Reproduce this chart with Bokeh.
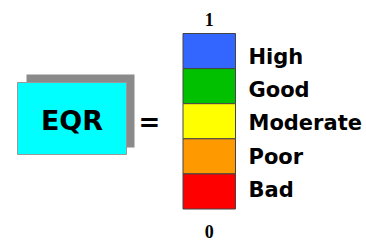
from bokeh.plotting import figure
from bokeh.models import Range1d, ColumnDataSource
from bokeh.core.properties import value
from bokeh.embed import file_html
from bokeh.resources import INLINE

# data
classes = ["High", "Good", "Moderate", "Poor", "Bad"]
upper = [1.0, 0.8, 0.6, 0.4, 0.2]
lower = [0.8, 0.6, 0.4, 0.2, 0.0]
colors = ["#3366FF", "#00C000", "#FFFF00", "#FF9900", "#FF0000"]
end_labels = ["1", "0"]
end_values = [1.0, 0.0]

# layout (x in page pixels, y in EQR units)
bar_left, bar_right = 182.5, 235.0
label_x = 248

W, H = 366, 242
p = figure(width=W, height=H, output_backend="svg", toolbar_location=None,
           x_range=Range1d(0, W), y_range=Range1d((208.5 - H) / 175.5, 208.5 / 175.5),
           min_border=0)
p.axis.visible = False
p.grid.visible = False
p.outline_line_color = None
p.background_fill_color = "white"
p.border_fill_color = "white"

# scale bar
src = ColumnDataSource(dict(top=upper, bottom=lower, color=colors, name=classes,
                            mid=[(a + b) / 2 for a, b in zip(upper, lower)]))
p.quad(left=bar_left, right=bar_right, top="top", bottom="bottom", fill_color="color",
       line_color="#444444", line_width=1, source=src)

label_y = [0.5 + (m - 0.5) * 0.95 - 0.012 for m in src.data["mid"]]
p.text(x=[label_x] * len(classes), y=label_y, text=classes,
       text_font=value("DejaVu Sans"), text_font_style="bold", text_font_size="21px",
       text_baseline="middle", text_align="left", text_color="black")

# end labels 1 and 0
end_y = [end_values[0] + 0.082, end_values[1] - 0.128]
p.text(x=[(bar_left + bar_right) / 2] * 2, y=end_y, text=end_labels,
       text_font=value("Liberation Serif"), text_font_style="bold", text_font_size="18px",
       text_baseline="middle", text_align="center", text_color="black")

# EQR box with shadow
p.quad(left=[26], right=[134], top=[0.7664], bottom=[0.3504], fill_color="#8A8A8A",
       line_color=None)
p.quad(left=[17], right=[126], top=[0.7208], bottom=[0.3105], fill_color="#00FFFF",
       line_color="#999999", line_width=1)
p.text(x=[71.5], y=[0.504], text=["EQR"], text_font=value("DejaVu Sans"),
       text_font_style="bold", text_font_size="27px", text_baseline="middle",
       text_align="center", text_color="black")
p.text(x=[149], y=[0.493], text=["="], text_font=value("DejaVu Sans"),
       text_font_style="bold", text_font_size="26px", text_baseline="middle",
       text_align="center", text_color="black")

open("out.html", "w").write(file_html(p, INLINE))
